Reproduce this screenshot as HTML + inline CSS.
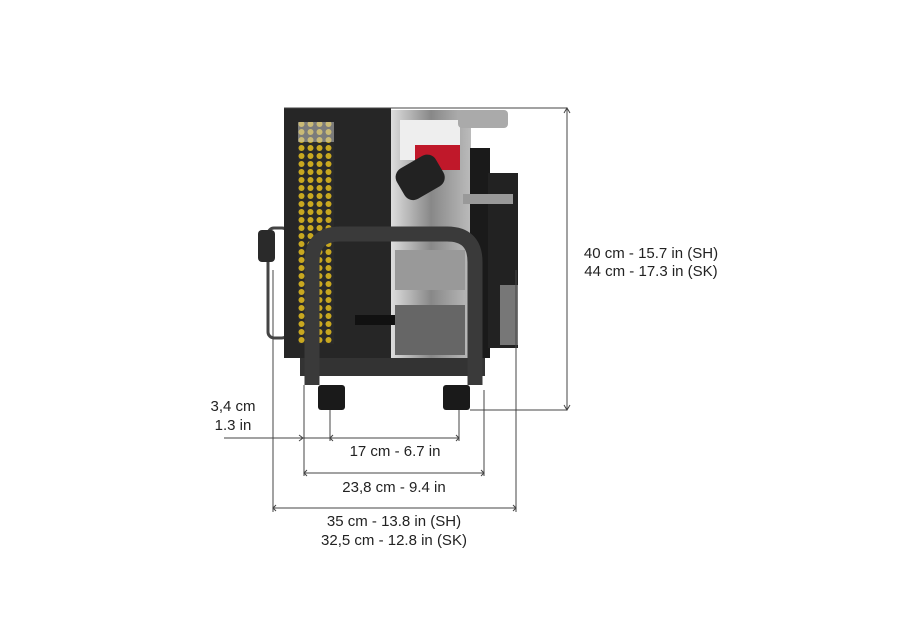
<!DOCTYPE html>
<html><head><meta charset="utf-8"><style>
html,body{margin:0;padding:0;background:#fff;}
svg{display:block}
text{font-family:"Liberation Sans",sans-serif;font-size:15px;fill:#222}
</style></head><body>
<svg width="902" height="630" viewBox="0 0 902 630" xmlns="http://www.w3.org/2000/svg">
<defs>
<pattern id="hex" width="9" height="8" patternUnits="userSpaceOnUse">
<rect width="9" height="8" fill="#2a2a2a"/><circle cx="4.5" cy="4" r="3" fill="#c9a820"/>
</pattern>
<linearGradient id="met" x1="0" x2="1"><stop offset="0" stop-color="#ddd"/><stop offset=".5" stop-color="#888"/><stop offset="1" stop-color="#bbb"/></linearGradient>
</defs>
<!-- machine -->
<rect x="268" y="228" width="20" height="110" rx="6" fill="none" stroke="#444" stroke-width="3"/>
<rect x="258" y="230" width="17" height="32" rx="4" fill="#2a2a2a"/>
<rect x="391" y="110" width="80" height="250" fill="url(#met)"/>
<rect x="400" y="120" width="60" height="40" fill="#eee"/>
<rect x="415" y="145" width="45" height="25" fill="#c0182a"/>
<rect x="398" y="160" width="45" height="35" rx="10" fill="#222" transform="rotate(-30 420 178)"/>
<rect x="395" y="250" width="70" height="40" fill="#999"/>
<rect x="395" y="305" width="70" height="50" fill="#666"/>
<rect x="470" y="148" width="20" height="210" fill="#1a1a1a"/>
<rect x="488" y="173" width="30" height="175" fill="#222"/>
<rect x="500" y="285" width="18" height="60" fill="#777"/>
<rect x="458" y="110" width="50" height="18" rx="4" fill="#aaa"/>
<rect x="463" y="194" width="50" height="10" fill="#999"/>
<rect x="284" y="108" width="107" height="250" fill="#262626"/>
<rect x="298" y="122" width="36" height="222" fill="url(#hex)"/>
<rect x="298" y="122" width="36" height="20" fill="#ccc" opacity=".5"/>
<rect x="355" y="315" width="40" height="10" fill="#111"/>
<rect x="300" y="358" width="185" height="18" fill="#333"/>
<!-- roll bar -->
<path d="M312 385 V262 Q312 234 340 234 H447 Q475 234 475 262 V385" fill="none" stroke="#3a3a3a" stroke-width="15"/>
<rect x="318" y="385" width="27" height="25" rx="3" fill="#1a1a1a"/>
<rect x="443" y="385" width="27" height="25" rx="3" fill="#1a1a1a"/>
<!-- dimension lines -->
<g stroke="#444" stroke-width="1" fill="none">
<line x1="284" y1="108" x2="567" y2="108"/>
<line x1="470" y1="410" x2="567" y2="410"/>
<line x1="567" y1="108" x2="567" y2="410"/>
<path d="M564 113 L567 108 L570 113 M564 405 L567 410 L570 405"/>
<line x1="273" y1="270" x2="273" y2="512"/>
<line x1="516" y1="270" x2="516" y2="512"/>
<line x1="304" y1="385" x2="304" y2="476"/>
<line x1="484" y1="390" x2="484" y2="476"/>
<line x1="330" y1="410" x2="330" y2="441"/>
<line x1="459" y1="410" x2="459" y2="441"/>
<line x1="224" y1="438" x2="330" y2="438"/>
<path d="M299 435 L303 438 L299 441 M333 435 L330 438 L333 441"/>
<line x1="330" y1="438" x2="459" y2="438"/>
<path d="M456 435 L459 438 L456 441"/>
<line x1="304" y1="473" x2="484" y2="473"/>
<path d="M307 470 L304 473 L307 476 M481 470 L484 473 L481 476"/>
<line x1="273" y1="508" x2="516" y2="508"/>
<path d="M276 505 L273 508 L276 511 M513 505 L516 508 L513 511"/>
</g>
<text x="233" y="411" text-anchor="middle">3,4 cm</text>
<text x="233" y="430" text-anchor="middle">1.3 in</text>
<text x="395" y="456" text-anchor="middle">17 cm - 6.7 in</text>
<text x="394" y="492" text-anchor="middle">23,8 cm - 9.4 in</text>
<text x="394" y="526" text-anchor="middle">35 cm - 13.8 in (SH)</text>
<text x="394" y="545" text-anchor="middle">32,5 cm - 12.8 in (SK)</text>
<text x="651" y="258" text-anchor="middle">40 cm - 15.7 in (SH)</text>
<text x="651" y="276" text-anchor="middle">44 cm - 17.3 in (SK)</text>
</svg>
</body></html>
